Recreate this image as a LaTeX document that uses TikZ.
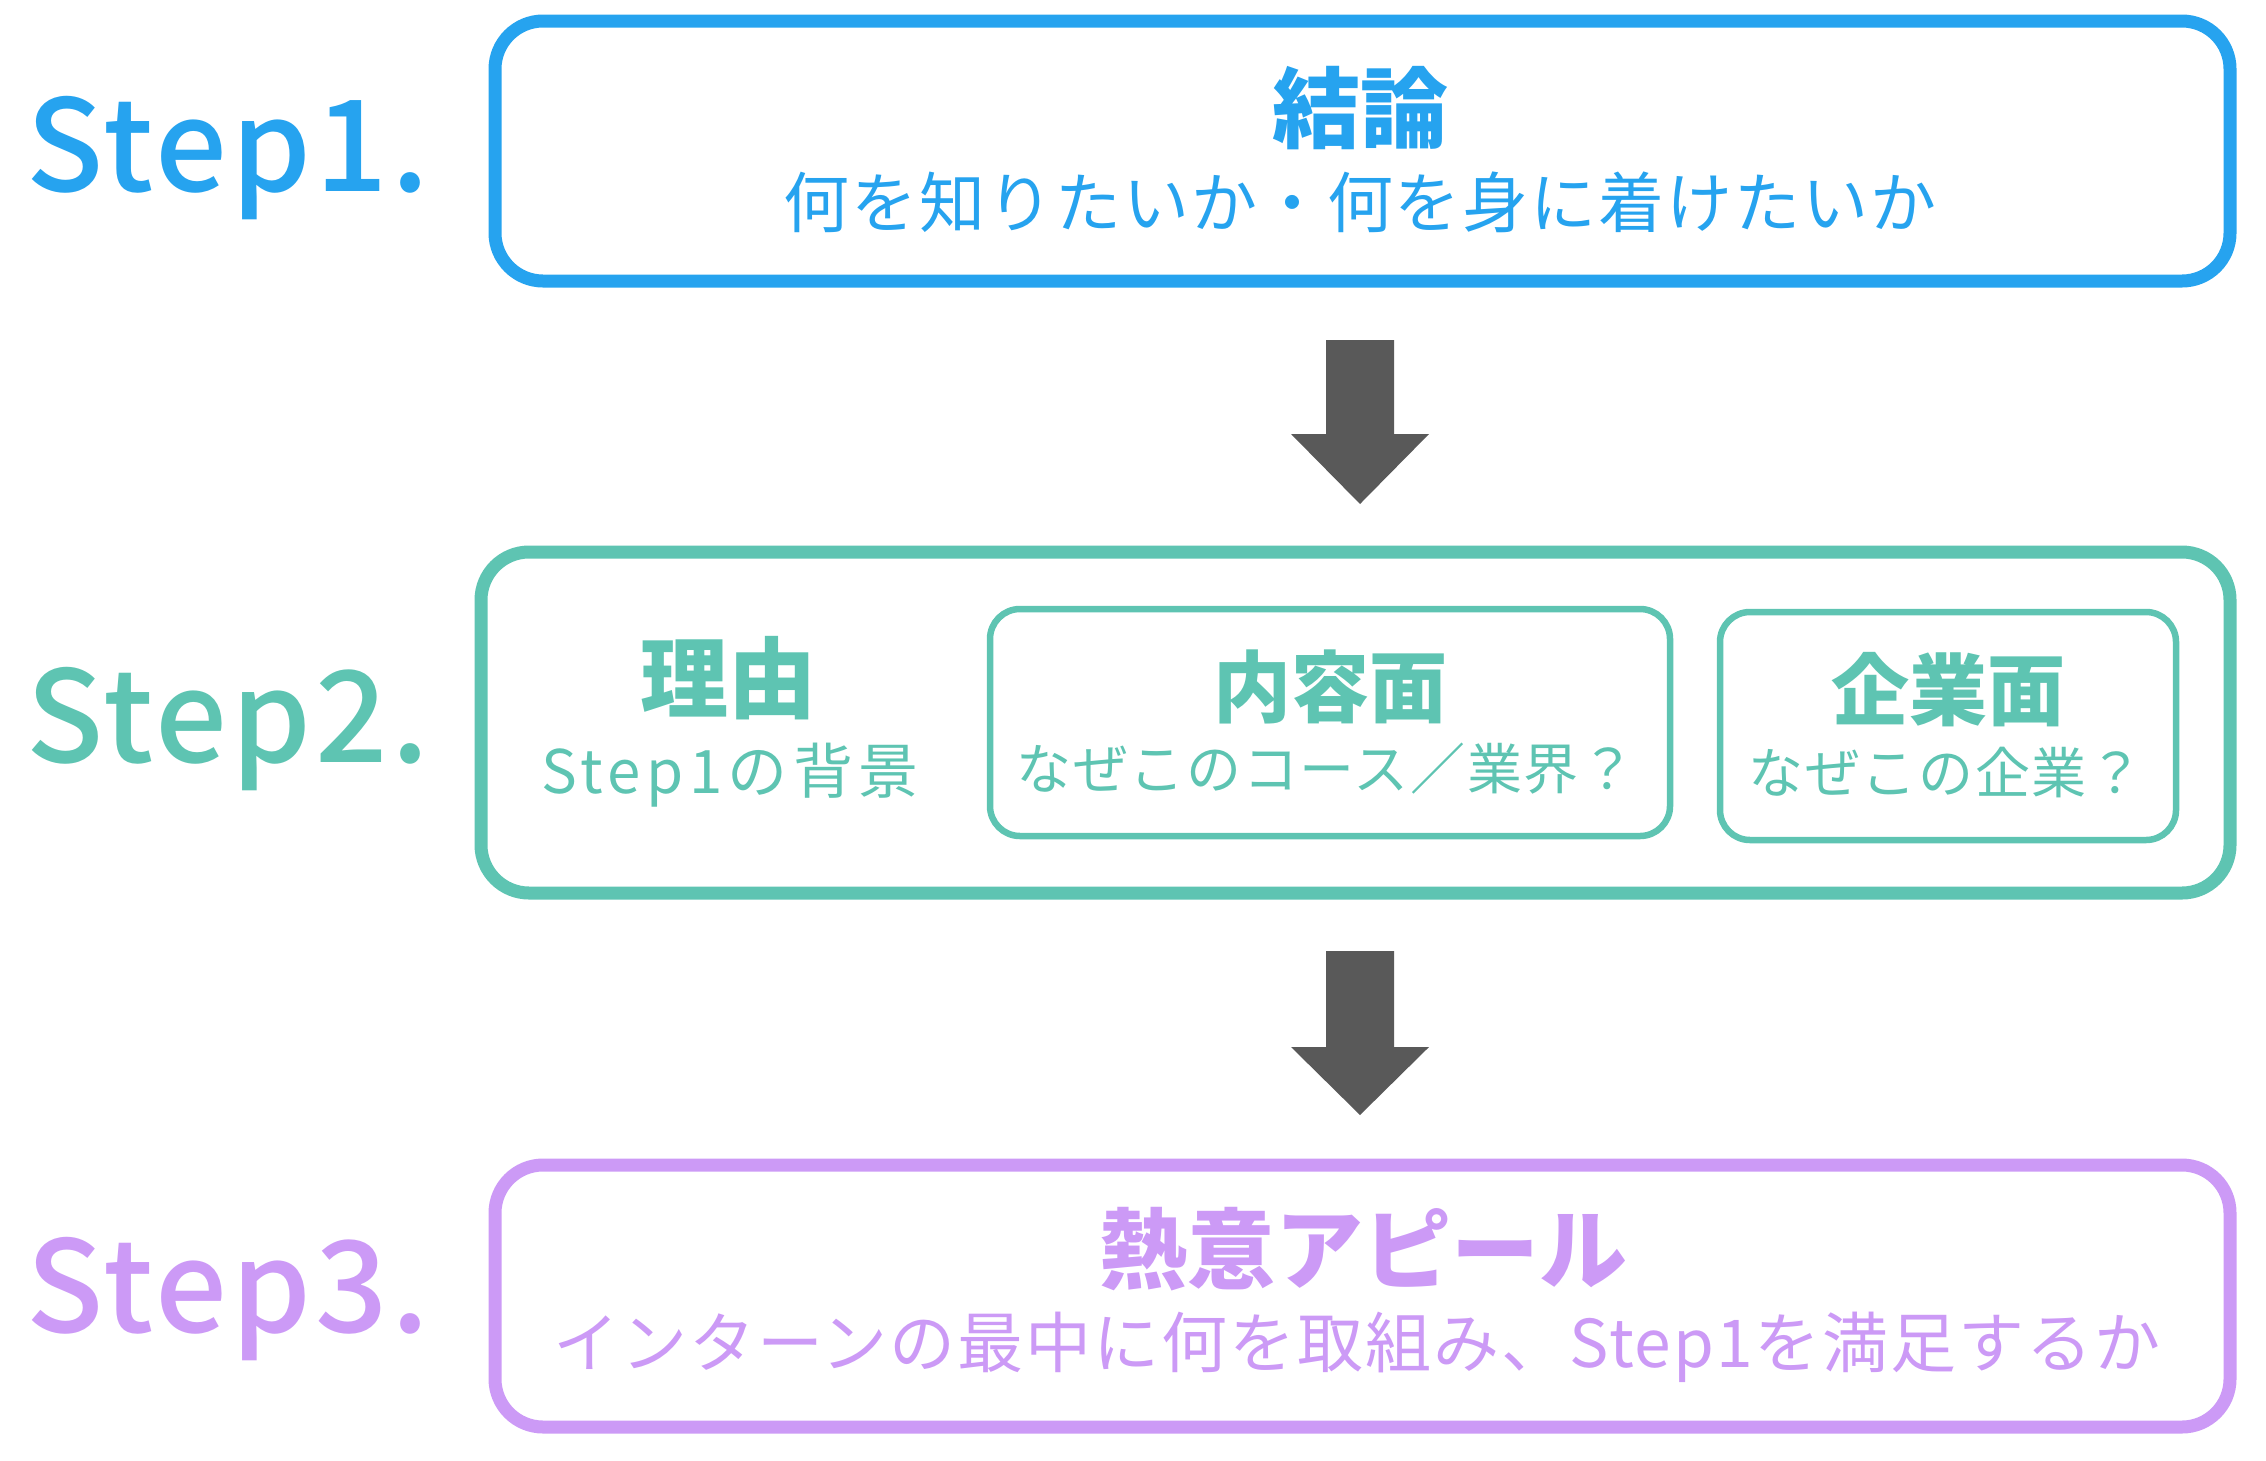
\documentclass[tikz,border=0pt]{standalone}
\usepackage{fontspec}
\setmainfont{Noto Sans CJK JP}
\newfontfamily\stepfont{Noto Sans CJK JP Medium}[LetterSpace=3]
\newfontfamily\subfont{Noto Sans CJK JP}[LetterSpace=3]
\newfontfamily\subwidefont{Noto Sans CJK JP}[LetterSpace=9]
\definecolor{sblue}{HTML}{26A3EF}
\definecolor{steal}{HTML}{5EC4B2}
\definecolor{spurple}{HTML}{CC9AF6}
\definecolor{sgray}{HTML}{595959}
\newcommand\fsz[1]{\fontsize{#1}{#1}\selectfont}
\begin{document}
\begin{tikzpicture}[x=1pt,y=-1pt,
  bigbox/.style={draw=#1, line width=13pt, rounded corners=48pt, inner sep=0pt, outer sep=0pt},
  smallbox/.style={draw=steal, line width=6.5pt, rounded corners=30pt, inner sep=0pt, outer sep=0pt},
  steplabel/.style={text=#1, font=\stepfont\fsz{127}, anchor=base west, inner sep=0pt},
  title/.style={text=#1, font=\fsz{88}\bfseries, inner sep=0pt},
  subtitle/.style={text=#1, font=\subfont\fsz{66}, inner sep=0pt},
  midtitle/.style={text=steal, font=\fsz{78}\bfseries, inner sep=0pt},
  smalltitle/.style={text=steal, font=\subfont\fsz{55}, inner sep=0pt},
  blockarrow/.style={fill=sgray}]
\useasboundingbox (0,0) rectangle (2266,1460);
% boxes
\node[bigbox=sblue, minimum width=1735pt, minimum height=260pt] (b1) at (1362.5,151) {};
\node[bigbox=steal, minimum width=1749pt, minimum height=341pt] (b2) at (1355.5,722.5) {};
\node[bigbox=spurple, minimum width=1735pt, minimum height=262pt] (b3) at (1362.5,1296) {};
\node[smallbox, minimum width=680pt, minimum height=227pt] (c1) at (1330,722.5) {};
\node[smallbox, minimum width=456pt, minimum height=228pt] (c2) at (1948,726) {};
% step labels
\node[steplabel=sblue] (s1) at (26,191) {Step1.};
\node[steplabel=steal] (s2) at (26,762) {Step2.};
\node[steplabel=spurple] (s3) at (26,1332) {Step3.};
% texts
\node[title=sblue] (t1) at (1360,108) {結論};
\node[subtitle=sblue] (u1) at (1360,202) {何を知りたいか・何を身に着けたいか};
\node[title=steal] (t2) at (728,678) {理由};
\node[text=steal, font=\subwidefont\fsz{60}, inner sep=0pt] (u2) at (730,775) {Step1の背景};
\node[midtitle] (t3) at (1330,687) {内容面};
\node[smalltitle] (u3) at (1326,769) {なぜこのコース／業界？};
\node[midtitle] (t4) at (1948,690) {企業面};
\node[smalltitle] (u4) at (1946,773) {なぜこの企業？};
\node[title=spurple] (t5) at (1363,1249) {熱意アピール};
\node[subtitle=spurple] (u5) at (1357,1347) {インターンの最中に何を取組み、Step1を満足するか};
% arrows
\coordinate (a1top) at (1360,340);
\coordinate (a1tip) at (1360,504);
\coordinate (a2top) at (1360,951);
\coordinate (a2tip) at (1360,1115);
\fill[blockarrow] (a1top) ++(-34,0) -- ++(68,0) -- ++(0,94) -- ++(35,0) -- (a1tip) -- ++(-69,-70) -- ++(35,0) -- cycle;
\fill[blockarrow] (a2top) ++(-34,0) -- ++(68,0) -- ++(0,96) -- ++(35,0) -- (a2tip) -- ++(-69,-68) -- ++(35,0) -- cycle;
\end{tikzpicture}
\end{document}
